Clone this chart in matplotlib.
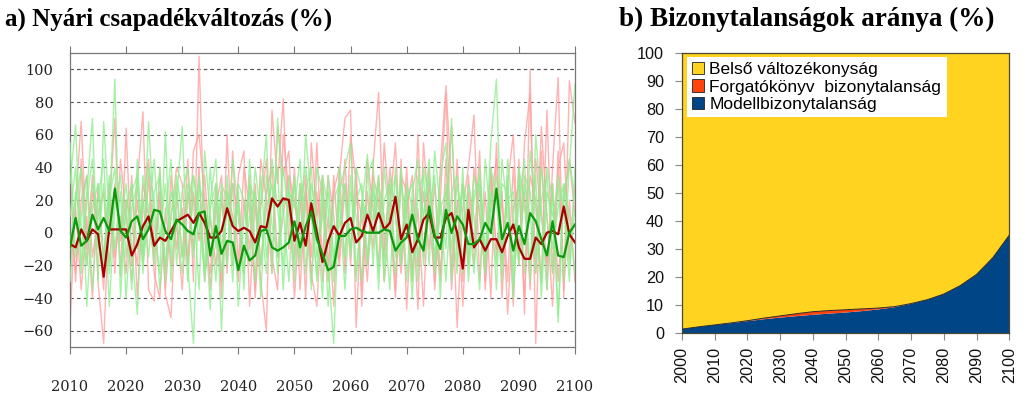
import numpy as np
import matplotlib
matplotlib.use("Agg")
import matplotlib.pyplot as plt
from matplotlib.patches import Patch

# ---------------- data: panel a ----------------
years_a = list(range(2010, 2101))

red_mean = [-7, -9, 2, -5, 2, -1, -27, 2, 2, 2,
            2, -14, -7, 4, 10, -8, -3, -5, 1, 7,
            9, 11, 6, 12, 6, -3, -3, 1, 15, 4,
            1, 3, 1, -6, 4, 3, 21, 16, 21, 20,
            -5, 6, -8, 18, 0, -18, -5, 4, -2, 6,
            9, -6, -2, 11, 1, 12, 2, 6, 22, -4,
            5, -12, -4, 8, 12, -3, -3, 9, 12, 0,
            -22, 14, -9, -4, -11, -4, -4, -12, -2, 5,
            -9, -16, -16, -3, -7, 0, 1, -1, 16, -1,
            -6]

green_mean = [-9, 9, -8, -5, 11, 2, 9, 1, 27, 1,
              -3, 7, 10, -4, 2, 14, 13, 1, -4, 8,
              5, 1, -1, 12, 13, -14, 4, -13, -5, -6,
              -23, -8, -17, -14, 1, 2, -9, -11, -9, -6,
              7, -9, 4, 13, -4, -13, -23, -21, -2, -2,
              2, 3, 1, 0, 0, 0, 2, 1, -11, -6,
              -3, 11, -4, -11, 16, -2, -10, 14, 0, 10,
              5, -7, -7, -4, 6, 0, 27, -4, 6, -11,
              4, -7, 12, 7, -4, -14, 7, -14, -15, 0,
              5]

pink_1 = [-57, 20, 68, -10, 35, -30, -68, 15, 70, -27,
          64, -20, 30, 74, -35, -42, 40, -38, -52, 25,
          -15, 45, -30, 108, -5, -25, 30, -40, 60, -20,
          35, 50, -45, 20, -30, -60, 75, 30, 82, -10,
          40, -35, 25, -15, 55, -30, 10, -45, 35, 70,
          75, -58, 20, -20, 40, 86, -10, 30, -35, 45,
          -47, 20, -47, 55, 10, -30, 40, 90, 30, -58,
          15, 40, 72, -30, 25, -40, 55, -20, 30, -45,
          45, -50, 100, -68, 50, -35, 40, 95, -40, 93,
          67]
pink_2 = [40, -30, 45, -20, 25, 5, -35, 30, -15, 10,
          -25, 35, -40, 15, 45, -10, 25, -35, 10, 40,
          30, -20, 50, 60, 20, -35, 15, 35, -25, 50,
          -20, 40, 15, -35, 45, 20, -25, 65, 35, 50,
          -15, 30, -40, 55, 10, 35, -20, 25, 40, -25,
          60, 30, -35, 45, 15, -20, 55, 10, -40, 35,
          25, -30, 60, -15, 40, -35, 20, 85, -25, 45,
          -30, 35, -10, 50, -35, 20, 45, -40, 30, 60,
          -20, 55, 85, -25, 65, 10, -45, 40, 55, -15,
          30]
pink_3 = [-20, 15, -35, 10, -40, 30, -15, 25, -25, 45,
          10, -30, 20, -15, 35, -25, -40, 15, -20, 5,
          -35, 25, -10, 40, -30, 10, -20, 20, -15, 30,
          10, -25, 35, -40, 15, 45, -15, -35, 60, 25,
          -40, 15, 35, -25, -45, 20, -30, 35, -15, 45,
          -20, 40, -45, 25, -10, 35, -30, 15, 55, -20,
          40, -25, 15, -45, 30, 5, -30, 45, -35, 20,
          -45, 25, -20, 30, -30, 40, -15, 25, -50, 15,
          30, -40, 35, 20, -30, 75, -25, 50, -35, 20,
          -30]
pink_4 = [5, -25, 20, 35, -15, 10, 25, -20, 30, -5,
          20, 5, -20, 30, 10, -15, 20, -25, 35, -10,
          15, -20, 25, -5, 35, -15, 5, -30, 25, 10,
          -30, 20, -10, 30, -20, 25, 40, -15, 10, 35,
          20, -10, 30, -30, 25, -15, 35, 10, -20, 30,
          -10, 25, 10, -30, 35, 20, -15, 40, 10, -25,
          15, 35, -20, 25, -10, 30, -25, 15, 65, -10,
          30, -20, 40, 10, -25, 35, -10, 20, -30, 40,
          -15, 25, -35, 45, 10, -20, 30, -30, 20, 45,
          10]

green_1 = [30, 66, -20, 25, 70, -30, 68, 10, 94, -40,
           20, -35, 45, -15, 68, 5, -25, 62, -30, 20,
           65, -20, -68, 30, 15, -47, 25, -60, 35, -20,
           25, -35, 45, -10, 20, 60, -25, 70, 15, -30,
           35, -15, 60, 20, -30, 30, -20, -68, 25, 40,
           55, -25, 15, 48, -20, 30, 10, -35, 40, -15,
           25, -30, 35, 10, 45, -25, 20, -10, 70, -20,
           30, 15, -25, 40, -15, 55, 94, -20, 35, -40,
           20, 45, -30, 60, 15, -35, 30, -50, 25, 40,
           91]
green_2 = [-30, 20, 40, -45, 15, 30, -20, 35, -10, 25,
           -40, 15, 30, -25, 40, 20, -35, 10, 45, -20,
           25, 40, -15, 35, -30, 20, 45, -25, 15, 30,
           -45, 10, 25, -30, 35, -15, 20, 40, -35, 25,
           15, 45, -25, 30, 10, -40, 35, -20, 20, -35,
           25, 10, -30, 35, 45, -25, 20, 30, -15, 40,
           -30, 25, 45, -20, 15, 35, -40, 30, 10, -25,
           40, -30, 20, 35, -15, 25, -35, 45, 10, -20,
           35, -25, 50, 15, -30, 40, 20, -55, 30, 10,
           -25]
green_3 = [55, -15, 10, 35, -35, 20, 45, -25, 25, 5,
           30, -10, -50, 35, 15, -20, 40, -30, 25, 10,
           -25, 30, 20, -35, 50, 10, -30, 25, -20, 45,
           15, -25, 30, 20, -40, 35, 5, -15, 40, 10,
           -20, 30, 15, -35, 40, 25, -45, 20, 30, -15,
           35, -30, 20, 10, 30, -35, 40, 5, -25, 30,
           10, -40, 25, 35, -20, 50, 15, -30, 25, 35,
           -25, 30, 10, -35, 45, 5, -20, 30, 25, -30,
           40, 15, -20, 35, -40, 25, 10, 30, -30, 45,
           20]
green_4 = [10, 40, -25, 20, 45, -10, 30, -45, 15, 35,
           -15, 25, 35, -20, 10, 45, -5, 30, -15, 35,
           10, -30, 35, 15, -20, 40, -10, 30, 20, -30,
           30, 20, -20, 40, 10, -25, 45, 15, -20, 35,
           -30, 20, 40, 10, -25, 35, 15, -30, 40, 20,
           -15, 40, 25, -20, 10, 35, -30, 20, 35, -10,
           30, 15, -30, 40, 20, -15, 35, 55, -30, 15,
           25, -20, 35, 15, -25, 40, 20, -30, 45, 10,
           -20, 35, 25, -15, 40, 10, -25, 35, 15, -30,
           40]
green_5 = [-10, 25, 5, -20, 30, 15, -15, 20, 40, -25,
           15, 30, -10, 20, -15, 25, 35, -20, 10, 30,
           -15, 20, 35, 5, -25, 15, 30, -10, 25, 5,
           20, -15, 10, 25, -20, 15, 30, -25, 20, 15,
           30, -20, 25, 40, -15, 10, 25, -15, 5, 30,
           -10, 20, 30, -15, 25, 15, -20, 35, 10, -20,
           20, 30, -15, 10, 35, -20, 15, 25, -10, 30,
           10, -15, 25, 30, -20, 15, 35, -10, 20, 25,
           -15, 30, 10, -25, 20, 35, -10, 15, 30, -20,
           15]

pink_members = [pink_1, pink_2, pink_3, pink_4]
green_members = [green_1, green_2, green_3, green_4, green_5]

yticks_a = [-60, -40, -20, 0, 20, 40, 60, 80, 100]
xticks_a = [2010, 2020, 2030, 2040, 2050, 2060, 2070, 2080, 2090, 2100]

# ---------------- data: panel b ----------------
years_b = [2000, 2005, 2010, 2015, 2020, 2025, 2030, 2035, 2040, 2045, 2050,
           2055, 2060, 2065, 2070, 2075, 2080, 2085, 2090, 2095, 2100]
model_unc = [1.5, 2.3, 3.0, 3.6, 4.3, 5.0, 5.6, 6.1, 6.6, 7.0, 7.4,
             7.9, 8.5, 9.3, 10.5, 12.0, 14.0, 17.0, 21.0, 27.0, 35.0]
scen_unc = [0, 0, 0, 0.1, 0.2, 0.4, 0.6, 0.9, 1.1, 1.1, 1.0,
            0.8, 0.5, 0.2, 0.1, 0, 0, 0, 0, 0, 0]
internal_var = [100 - m - s for m, s in zip(model_unc, scen_unc)]
labels_b = ["Belső változékonyság", "Forgatókönyv  bizonytalanság", "Modellbizonytalanság"]
colors_b = ["#ffd320", "#ff420e", "#004586"]

# ---------------- figure ----------------
W, H = 1031, 398
fig = plt.figure(figsize=(W / 100, H / 100), dpi=100)

# ---- panel a ----
ax1 = fig.add_axes([70 / W, 1 - 347 / H, (575 - 70) / W, (347 - 53) / H])
for s in pink_members:
    ax1.plot(years_a, s, color="#ffa0a0", lw=1.0, alpha=0.8, zorder=2)
for s in green_members:
    ax1.plot(years_a, s, color="#90ee90", lw=1.0, alpha=0.8, zorder=3)
ax1.plot(years_a, red_mean, color="#a80000", lw=1.6, zorder=5)
ax1.plot(years_a, green_mean, color="#0c9a0c", lw=1.6, zorder=6)

ax1.set_xlim(2010, 2100)
ax1.set_ylim(-70, 110)
ax1.set_yticks(yticks_a)
ax1.set_xticks(xticks_a)
for y in yticks_a + [100]:
    ax1.axhline(y, color="#555555", lw=0.8, ls=(0, (3, 3)), zorder=1)
for sp in ax1.spines.values():
    sp.set_color("#777777")
    sp.set_linewidth(0.9)
ax1.tick_params(axis="y", length=0, pad=12, labelsize=10.5, labelfontfamily="DejaVu Serif",
                labelcolor="#222222")
ax1.tick_params(axis="x", which="both", direction="out", length=5, color="#777777",
                top=True, labeltop=False, pad=19, labelsize=10.5,
                labelfontfamily="DejaVu Serif", labelcolor="#222222")

fig.text(5 / W, 1 - 19 / H, "a) Nyári csapadékváltozás (%)", ha="left", va="center",
         fontsize=18, fontweight="bold", family="Liberation Serif")

# ---- panel b ----
ax2 = fig.add_axes([682 / W, 1 - 333.3 / H, (1009.3 - 682) / W, (333.3 - 52.7) / H])
ax2.stackplot(years_b, model_unc, scen_unc, internal_var,
              colors=[colors_b[2], colors_b[1], colors_b[0]], lw=0, zorder=2)
top_line = [m + s for m, s in zip(model_unc, scen_unc)]
ax2.plot(years_b, top_line, color="#2a2a2a", lw=0.7, zorder=3)
ax2.set_xlim(2000, 2100)
ax2.set_ylim(0, 100)
ax2.set_xticks(list(range(2000, 2101, 10)))
ax2.set_yticks(list(range(0, 101, 10)))
for sp in ax2.spines.values():
    sp.set_color("#4a4a30")
    sp.set_linewidth(0.9)
ax2.tick_params(axis="both", direction="out", length=5, color="#888888",
                labelsize=11.7, labelfontfamily="Liberation Sans", labelcolor="#111111")
ax2.tick_params(axis="x", labelrotation=90, pad=5)
ax2.tick_params(axis="y", pad=8)

handles = [Patch(facecolor=c, edgecolor="#222222", linewidth=0.6) for c in colors_b]
leg = ax2.legend(handles, labels_b, loc="upper left", bbox_to_anchor=(0.015, 0.985),
                 frameon=True, fancybox=False, framealpha=1.0, edgecolor="white",
                 handlelength=0.7, handleheight=0.7, handletextpad=0.3,
                 labelspacing=0.12, borderpad=0.3, borderaxespad=0.0,
                 prop={"family": "Liberation Sans", "size": 12.5})
leg.get_frame().set_linewidth(0)

fig.text(619 / W, 1 - 19 / H, "b) Bizonytalanságok aránya (%)", ha="left", va="center",
         fontsize=19.5, fontweight="bold", family="Liberation Serif")

fig.savefig("out.png", dpi=100, facecolor="white")
